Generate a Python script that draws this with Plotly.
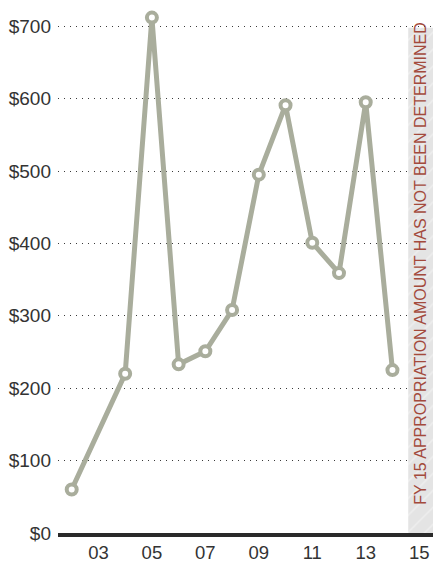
import plotly.graph_objects as go

years = [2002, 2004, 2005, 2006, 2007, 2008, 2009, 2010, 2011, 2012, 2013, 2014]
amounts = [60, 220, 712, 233, 251, 308, 495, 591, 401, 359, 595, 225]

x_tick_vals = [2003, 2005, 2007, 2009, 2011, 2013, 2015]
x_tick_text = ["03", "05", "07", "09", "11", "13", "15"]
y_tick_vals = [0, 100, 200, 300, 400, 500, 600, 700]
y_tick_text = ["$0", "$100", "$200", "$300", "$400", "$500", "$600", "$700"]

note_text = "FY 15 APPROPRIATION AMOUNT HAS NOT BEEN DETERMINED"
undetermined_start = 2014.59
undetermined_end = 2016.0
undetermined_top = 698

line_color = "#a9ad9c"
text_color = "#333333"

fig = go.Figure()

# hatched "undetermined" region
fig.add_trace(go.Bar(
    x=[(undetermined_start + undetermined_end) / 2],
    y=[undetermined_top],
    width=[undetermined_end - undetermined_start],
    marker=dict(
        color="#e4e4e4",
        line=dict(width=0),
        pattern=dict(shape="/", bgcolor="#e4e4e4", fgcolor="#fafafa",
                     size=12, solidity=0.12),
    ),
    hoverinfo="skip",
    showlegend=False,
))

fig.add_trace(go.Scatter(
    x=years, y=amounts,
    mode="lines+markers",
    line=dict(color=line_color, width=5),
    marker=dict(symbol="circle", size=10, color="white",
                line=dict(color=line_color, width=4)),
    showlegend=False,
    cliponaxis=False,
))

fig.add_annotation(
    x=2015.067, y=372, xref="x", yref="y",
    text=note_text, textangle=-90, showarrow=False,
    font=dict(family="Liberation Sans, Arial, sans-serif", size=16, color="#a34a3c"),
    xanchor="center", yanchor="middle",
)

fig.update_layout(
    width=433, height=563,
    margin=dict(l=58, r=0, t=0, b=30, autoexpand=False),
    paper_bgcolor="white", plot_bgcolor="white",
    font=dict(family="Liberation Sans, Arial, sans-serif", size=19, color=text_color),
    barmode="overlay",
)

fig.update_xaxes(
    range=[2001.487, 2015.517],
    tickvals=x_tick_vals, ticktext=x_tick_text,
    showgrid=False, zeroline=False,
    showline=True, linecolor="#2a2a2a", linewidth=4,
    ticks="", ticklabelstandoff=0,
    tickfont=dict(size=18.5, color=text_color),
)

fig.update_yaxes(
    range=[0, 736.3],
    tickvals=y_tick_vals, ticktext=y_tick_text,
    showgrid=True, gridcolor="#3a3a3a", gridwidth=1.4, griddash="1.4px,4.6px",
    zeroline=False, showline=False,
    ticks="", ticklabelstandoff=6,
    tickfont=dict(size=19, color=text_color),
)

fig.write_html(
    "out.html",
    config={"displayModeBar": False},
    post_script="document.body.style.margin='0';document.body.style.overflow='hidden';",
)
